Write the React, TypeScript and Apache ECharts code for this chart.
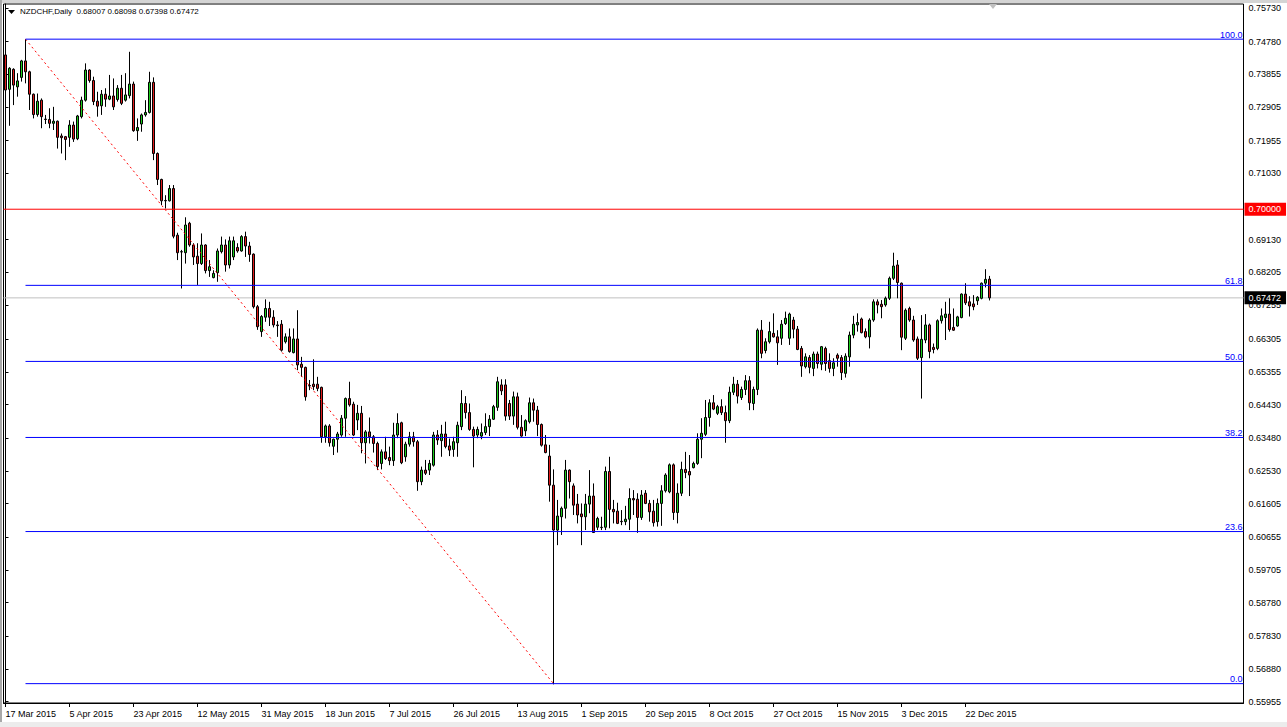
import React, { useEffect, useRef } from "react";
import * as echarts from "echarts";

const SYMBOL = "NZDCHF,Daily";
const LAST_OHLC = [0.68007, 0.68098, 0.67398, 0.67472];

const open = [
  0.7440,0.7342,0.7399,0.7349,0.7376,0.7423,0.7392,0.7328,0.7270,0.7311,
  0.7257,0.7256,0.7245,0.7251,0.7209,0.7207,0.7205,0.7240,0.7201,0.7264,
  0.7311,0.7397,0.7367,0.7308,0.7295,0.7328,0.7314,0.7323,0.7313,0.7345,
  0.7311,0.7324,0.7357,0.7224,0.7243,0.7269,0.7276,0.7362,0.7159,0.7085,
  0.7025,0.7024,0.7059,0.6926,0.6878,0.6876,0.6960,0.6898,0.6866,0.6845,
  0.6898,0.6825,0.6805,0.6819,0.6879,0.6898,0.6841,0.6864,0.6891,0.6881,
  0.6922,0.6895,0.6872,0.6722,0.6651,0.6692,0.6717,0.6692,0.6670,0.6672,
  0.6622,0.6636,0.6591,0.6630,0.6558,0.6549,0.6497,0.6501,0.6501,0.6492,
  0.6351,0.6382,0.6324,0.6344,0.6356,0.6404,0.6460,0.6444,0.6399,0.6418,
  0.6334,0.6365,0.6351,0.6332,0.6275,0.6308,0.6292,0.6283,0.6356,0.6391,
  0.6294,0.6330,0.6351,0.6337,0.6223,0.6256,0.6256,0.6270,0.6356,0.6340,
  0.6359,0.6325,0.6315,0.6334,0.6380,0.6446,0.6420,0.6372,0.6356,0.6353,
  0.6363,0.6380,0.6401,0.6435,0.6499,0.6499,0.6446,0.6410,0.6465,0.6378,
  0.6368,0.6394,0.6448,0.6427,0.6386,0.6328,0.6296,0.6213,0.6085,0.6123,
  0.6147,0.6256,0.6211,0.6159,0.6131,0.6123,0.6159,0.6182,0.6093,0.6092,
  0.6093,0.6252,0.6144,0.6139,0.6110,0.6109,0.6116,0.6175,0.6173,0.6121,
  0.6190,0.6161,0.6139,0.6109,0.6161,0.6197,0.6194,0.6271,0.6135,0.6190,
  0.6258,0.6252,0.6263,0.6275,0.6344,0.6358,0.6406,0.6448,0.6418,0.6437,
  0.6420,0.6397,0.6478,0.6501,0.6463,0.6486,0.6511,0.6446,0.6486,0.6655,
  0.6597,0.6622,0.6646,0.6636,0.6632,0.6674,0.6632,0.6684,0.6658,0.6603,
  0.6551,0.6577,0.6546,0.6587,0.6558,0.6603,0.6568,0.6546,0.6584,0.6577,
  0.6532,0.6579,0.6641,0.6670,0.6687,0.6651,0.6636,0.6684,0.6736,0.6729,
  0.6727,0.6746,0.6803,0.6841,0.6789,0.6632,0.6717,0.6684,0.6630,0.6577,
  0.6627,0.6670,0.6606,0.6603,0.6682,0.6691,0.6701,0.6663,0.6667,0.6691,
  0.6758,0.6736,0.6730,0.6739,0.6746,0.6789,0.68007,
];
const high = [
  0.7459,0.7405,0.7402,0.7388,0.7426,0.7485,0.7395,0.7330,0.7330,0.7316,
  0.7269,0.7288,0.7292,0.7253,0.7216,0.7209,0.7254,0.7250,0.7269,0.7321,
  0.7416,0.7399,0.7378,0.7335,0.7340,0.7345,0.7383,0.7373,0.7354,0.7383,
  0.7388,0.7449,0.7364,0.7259,0.7273,0.7311,0.7392,0.7376,0.7162,0.7087,
  0.7040,0.7069,0.7069,0.6933,0.6884,0.6977,0.6964,0.6903,0.6903,0.6931,
  0.6900,0.6855,0.6826,0.6888,0.6922,0.6914,0.6922,0.6922,0.6903,0.6926,
  0.6936,0.6907,0.6874,0.6727,0.6698,0.6743,0.6736,0.6712,0.6681,0.6684,
  0.6646,0.6660,0.6660,0.6712,0.6579,0.6551,0.6513,0.6572,0.6522,0.6494,
  0.6386,0.6387,0.6346,0.6365,0.6413,0.6463,0.6508,0.6451,0.6442,0.6439,
  0.6370,0.6406,0.6356,0.6337,0.6315,0.6351,0.6323,0.6391,0.6418,0.6394,
  0.6337,0.6365,0.6365,0.6342,0.6266,0.6285,0.6285,0.6365,0.6370,0.6385,
  0.6394,0.6346,0.6351,0.6394,0.6484,0.6467,0.6446,0.6380,0.6380,0.6389,
  0.6418,0.6413,0.6442,0.6522,0.6515,0.6515,0.6456,0.6480,0.6477,0.6413,
  0.6401,0.6463,0.6460,0.6439,0.6389,0.6356,0.6328,0.6258,0.6171,0.6152,
  0.6285,0.6258,0.6218,0.6188,0.6161,0.6188,0.6256,0.6218,0.6123,0.6123,
  0.6266,0.6294,0.6171,0.6163,0.6142,0.6154,0.6204,0.6199,0.6190,0.6199,
  0.6199,0.6171,0.6171,0.6175,0.6213,0.6247,0.6275,0.6275,0.6218,0.6280,
  0.6308,0.6299,0.6280,0.6361,0.6404,0.6456,0.6458,0.6470,0.6442,0.6458,
  0.6440,0.6494,0.6522,0.6513,0.6494,0.6527,0.6524,0.6494,0.6660,0.6684,
  0.6632,0.6679,0.6703,0.6655,0.6684,0.6708,0.6705,0.6693,0.6667,0.6610,
  0.6589,0.6584,0.6594,0.6594,0.6610,0.6608,0.6589,0.6575,0.6589,0.6584,
  0.6589,0.6651,0.6696,0.6703,0.6691,0.6660,0.6689,0.6743,0.6743,0.6741,
  0.6751,0.6808,0.6876,0.6855,0.6791,0.6717,0.6722,0.6696,0.6637,0.6698,
  0.6701,0.6674,0.6617,0.6686,0.6717,0.6736,0.6746,0.6717,0.6696,0.6760,
  0.6789,0.6752,0.6755,0.6752,0.6791,0.6829,0.68098,
];
const low = [
  0.7335,0.7238,0.7297,0.7321,0.7364,0.7359,0.7283,0.7259,0.7264,0.7231,
  0.7243,0.7231,0.7226,0.7173,0.7159,0.7140,0.7178,0.7192,0.7197,0.7259,
  0.7307,0.7361,0.7297,0.7264,0.7269,0.7292,0.7311,0.7283,0.7307,0.7297,
  0.7307,0.7316,0.7221,0.7195,0.7221,0.7264,0.7273,0.7140,0.7069,0.7012,
  0.7002,0.7022,0.6917,0.6855,0.6774,0.6845,0.6893,0.6841,0.6784,0.6841,
  0.6817,0.6807,0.6803,0.6793,0.6874,0.6822,0.6831,0.6855,0.6876,0.6879,
  0.6864,0.6850,0.6717,0.6656,0.6636,0.6679,0.6667,0.6663,0.6636,0.6594,
  0.6617,0.6591,0.6589,0.6541,0.6522,0.6454,0.6484,0.6484,0.6481,0.6334,
  0.6334,0.6323,0.6299,0.6306,0.6351,0.6351,0.6437,0.6353,0.6370,0.6304,
  0.6275,0.6332,0.6306,0.6256,0.6258,0.6285,0.6270,0.6268,0.6347,0.6273,
  0.6280,0.6323,0.6323,0.6197,0.6213,0.6242,0.6242,0.6266,0.6328,0.6294,
  0.6318,0.6296,0.6294,0.6294,0.6370,0.6403,0.6368,0.6264,0.6347,0.6344,
  0.6356,0.6353,0.6399,0.6425,0.6470,0.6397,0.6399,0.6385,0.6372,0.6351,
  0.6353,0.6389,0.6394,0.6353,0.6323,0.6304,0.6166,0.5645,0.6042,0.6071,
  0.6118,0.6175,0.6128,0.6104,0.6042,0.6085,0.6133,0.6077,0.6085,0.6085,
  0.6085,0.6090,0.6104,0.6102,0.6099,0.6099,0.6085,0.6128,0.6077,0.6114,
  0.6159,0.6109,0.6095,0.6095,0.6097,0.6192,0.6190,0.6114,0.6104,0.6182,
  0.6233,0.6182,0.6261,0.6271,0.6290,0.6353,0.6380,0.6427,0.6413,0.6413,
  0.6334,0.6390,0.6470,0.6446,0.6456,0.6470,0.6427,0.6427,0.6470,0.6575,
  0.6589,0.6617,0.6634,0.6556,0.6613,0.6670,0.6613,0.6632,0.6598,0.6522,
  0.6546,0.6532,0.6524,0.6546,0.6541,0.6539,0.6534,0.6524,0.6551,0.6513,
  0.6520,0.6551,0.6632,0.6651,0.6646,0.6632,0.6603,0.6679,0.6703,0.6689,
  0.6722,0.6741,0.6798,0.6746,0.6598,0.6627,0.6679,0.6622,0.6570,0.6460,
  0.6618,0.6575,0.6589,0.6598,0.6674,0.6627,0.6651,0.6653,0.6665,0.6689,
  0.6727,0.6694,0.6712,0.6727,0.6743,0.6777,0.67398,
];
const close = [
  0.7340,0.7402,0.7354,0.7366,0.7423,0.7392,0.7328,0.7270,0.7308,0.7264,
  0.7256,0.7245,0.7251,0.7205,0.7204,0.7199,0.7240,0.7200,0.7266,0.7311,
  0.7397,0.7367,0.7307,0.7294,0.7328,0.7314,0.7323,0.7292,0.7345,0.7302,
  0.7326,0.7357,0.7224,0.7233,0.7269,0.7276,0.7362,0.7159,0.7085,0.7024,
  0.7024,0.7059,0.6923,0.6876,0.6879,0.6955,0.6898,0.6864,0.6845,0.6898,
  0.6825,0.6836,0.6817,0.6881,0.6898,0.6841,0.6910,0.6910,0.6881,0.6922,
  0.6895,0.6871,0.6722,0.6665,0.6694,0.6717,0.6692,0.6670,0.6668,0.6598,
  0.6636,0.6594,0.6630,0.6556,0.6549,0.6465,0.6496,0.6494,0.6489,0.6351,
  0.6382,0.6334,0.6344,0.6359,0.6404,0.6460,0.6442,0.6356,0.6418,0.6334,
  0.6365,0.6351,0.6332,0.6266,0.6308,0.6289,0.6283,0.6356,0.6389,0.6277,
  0.6330,0.6351,0.6337,0.6223,0.6256,0.6247,0.6275,0.6356,0.6342,0.6359,
  0.6323,0.6313,0.6337,0.6384,0.6446,0.6420,0.6372,0.6353,0.6372,0.6363,
  0.6380,0.6401,0.6437,0.6508,0.6482,0.6410,0.6410,0.6465,0.6378,0.6353,
  0.6397,0.6448,0.6427,0.6386,0.6327,0.6306,0.6213,0.6085,0.6125,0.6147,
  0.6256,0.6223,0.6156,0.6128,0.6123,0.6159,0.6182,0.6078,0.6118,0.6093,
  0.6252,0.6144,0.6137,0.6104,0.6109,0.6116,0.6175,0.6171,0.6121,0.6185,
  0.6161,0.6137,0.6106,0.6161,0.6197,0.6242,0.6271,0.6135,0.6190,0.6258,
  0.6249,0.6242,0.6275,0.6344,0.6361,0.6406,0.6448,0.6430,0.6437,0.6420,
  0.6397,0.6478,0.6501,0.6467,0.6486,0.6511,0.6448,0.6486,0.6655,0.6589,
  0.6622,0.6651,0.6636,0.6619,0.6672,0.6689,0.6701,0.6658,0.6600,0.6553,
  0.6579,0.6549,0.6587,0.6560,0.6608,0.6560,0.6546,0.6562,0.6575,0.6534,
  0.6581,0.6641,0.6672,0.6677,0.6648,0.6636,0.6684,0.6736,0.6727,0.6722,
  0.6746,0.6803,0.6838,0.6791,0.6635,0.6712,0.6684,0.6627,0.6575,0.6629,
  0.6670,0.6594,0.6600,0.6682,0.6696,0.6701,0.6657,0.6655,0.6693,0.6758,
  0.6733,0.6724,0.6722,0.6749,0.6789,0.6800,0.67472,
];

const yTicks = [
  0.7573, 0.7478, 0.73855, 0.72905, 0.71955, 0.7103, 0.6913, 0.68205, 0.67255,
  0.66305, 0.65355, 0.6443, 0.6348, 0.6253, 0.61605, 0.60655, 0.59705, 0.5878,
  0.5783, 0.5688, 0.55955,
];
const Y_MIN = 0.55918;
const Y_MAX = 0.75853;

const FIB_HIGH = 0.7485;
const FIB_LOW = 0.5647;
const FIB_HIGH_BAR = 5;
const FIB_LOW_BAR = 137;
const fibLevels = [100.0, 61.8, 50.0, 38.2, 23.6, 0.0];

const ROUND_LEVEL = 0.7;
const BID = 0.67472;

const TOTAL_SLOTS = 310; // bars + right chart shift
const MONTHS = ["Jan","Feb","Mar","Apr","May","Jun","Jul","Aug","Sep","Oct","Nov","Dec"];
const WEEK_START = Date.UTC(2015, 2, 15); // Sunday before first bar
const FIRST_DAY_IN_WEEK = 2; // first bar is Tuesday (Sun..Fri sessions)

function barDate(b: number): string {
  const p = FIRST_DAY_IN_WEEK + b;
  const days = Math.floor(p / 6) * 7 + (p % 6);
  const d = new Date(WEEK_START + days * 86400000);
  return `${d.getUTCDate()} ${MONTHS[d.getUTCMonth()]} ${d.getUTCFullYear()}`;
}

const FONT = 'Tahoma, "Liberation Sans", Arial, sans-serif';

export default function App() {
  const ref = useRef<HTMLDivElement>(null);
  useEffect(() => {
    if (!ref.current) return;
    const chart = echarts.init(ref.current, undefined, { renderer: "svg" });
    const n = open.length;
    const cats: string[] = [];
    for (let i = 0; i < TOTAL_SLOTS; i++) cats.push(i < n ? barDate(i) : "");
    const showIdx = (i: number) => i % 16 === 0 && i < n;

    const candleData = open.map((o, i) => [o, close[i], low[i], high[i]]);
    const fibRange = FIB_HIGH - FIB_LOW;
    const RIGHT_END = TOTAL_SLOTS - 0.5;
    const LEFT_END = -0.5;

    const hLine = (
      x0: number,
      v: number,
      color: string,
      z: number,
      endLabel: any
    ) => ({
      type: "line",
      xAxisIndex: 1,
      yAxisIndex: 0,
      data: [
        [x0, v],
        [RIGHT_END, v],
      ],
      symbol: "none",
      silent: true,
      clip: false,
      z,
      lineStyle: { color, width: 1, type: "solid" },
      endLabel,
    });

    const fibSeries = fibLevels.map((r) =>
      hLine(FIB_HIGH_BAR, FIB_LOW + (r / 100) * fibRange, "#0000ff", 5, {
        show: true,
        formatter: r.toFixed(1),
        color: "#0000ff",
        fontSize: 9,
        fontFamily: FONT,
        align: "right",
        verticalAlign: "bottom",
        distance: 0,
        offset: [-1, 0],
      })
    );

    const option: any = {
      animation: false,
      backgroundColor: "#ffffff",
      grid: {
        left: 3.5,
        right: 43.5,
        top: 4,
        bottom: 24,
        show: true,
        borderColor: "#000000",
        borderWidth: 1,
        backgroundColor: "transparent",
      },
      xAxis: [
        {
          type: "category",
          data: cats,
          boundaryGap: true,
          axisLine: { show: true, lineStyle: { color: "#000" } },
          axisTick: {
            show: true,
            alignWithLabel: true,
            interval: (i: number) => showIdx(i),
            length: 4,
            lineStyle: { color: "#000" },
          },
          axisLabel: {
            interval: (i: number) => showIdx(i),
            align: "left",
            margin: 6,
            color: "#000",
            fontSize: 9,
            fontFamily: FONT,
          },
          splitLine: { show: false },
        },
        {
          type: "value",
          min: LEFT_END,
          max: RIGHT_END,
          show: false,
        },
      ],
      yAxis: {
        type: "value",
        position: "right",
        min: Y_MIN,
        max: Y_MAX,
        splitLine: { show: false },
        axisLine: { show: true, lineStyle: { color: "#000" } },
        axisTick: {
          show: true,
          customValues: yTicks,
          length: 3,
          lineStyle: { color: "#000" },
        },
        axisLabel: {
          customValues: yTicks,
          formatter: (v: number) => v.toFixed(5),
          margin: 5,
          color: "#000",
          fontSize: 9,
          fontFamily: FONT,
        },
      },
      series: [
        hLine(LEFT_END, BID, "#c0c0c0", 1, {
          show: true,
          formatter: BID.toFixed(5),
          color: "#ffffff",
          backgroundColor: "#000000",
          padding: [2, 5, 2, 4],
          fontSize: 9,
          fontFamily: FONT,
          distance: 1,
        }),
        {
          type: "candlestick",
          xAxisIndex: 0,
          yAxisIndex: 0,
          data: candleData,
          barWidth: 2,
          z: 3,
          itemStyle: {
            color: "#1ccc1c",
            color0: "#e01b1b",
            borderColor: "#000000",
            borderColor0: "#000000",
            borderWidth: 1,
          },
        },
        hLine(LEFT_END, ROUND_LEVEL, "#ff0000", 4, {
          show: true,
          formatter: ROUND_LEVEL.toFixed(5),
          color: "#ffffff",
          backgroundColor: "#ff0000",
          padding: [2, 5, 2, 4],
          fontSize: 9,
          fontFamily: FONT,
          distance: 1,
        }),
        {
          type: "line",
          xAxisIndex: 1,
          yAxisIndex: 0,
          data: [
            [FIB_HIGH_BAR, FIB_HIGH],
            [FIB_LOW_BAR, FIB_LOW],
          ],
          symbol: "none",
          silent: true,
          lineStyle: { color: "#ff0000", width: 1, type: [2, 3] },
          z: 4,
        },
        ...fibSeries,
      ],
      graphic: [
        { type: "rect", shape: { x: 0, y: 0, width: 1287, height: 3 }, style: { fill: "#d4d4d4" }, silent: true },
        { type: "rect", shape: { x: 0, y: 0, width: 2, height: 727 }, style: { fill: "#a8a8a8" }, silent: true },
        { type: "rect", shape: { x: 0, y: 722, width: 1287, height: 5 }, style: { fill: "#ececec" }, silent: true },
        {
          type: "polygon",
          shape: { points: [[8, 10], [15, 10], [11.5, 14]] },
          style: { fill: "#000" },
          silent: true,
        },
        {
          type: "text",
          left: 20,
          top: 7,
          style: {
            text: `${SYMBOL}  ${LAST_OHLC.map((v) => v.toFixed(5)).join(" ")}`,
            fill: "#000",
            font: `8px ${FONT}`,
          },
          silent: true,
        },
        {
          type: "polygon",
          shape: { points: [[989, 4], [997, 4], [993, 9]] },
          style: { fill: "#c0c0c0" },
          silent: true,
        },
      ],
    };
    chart.setOption(option);
    return () => chart.dispose();
  }, []);
  return (
    <div
      ref={ref}
      style={{ position: "fixed", left: 0, top: 0, width: 1287, height: 727, background: "#fff" }}
    />
  );
}
